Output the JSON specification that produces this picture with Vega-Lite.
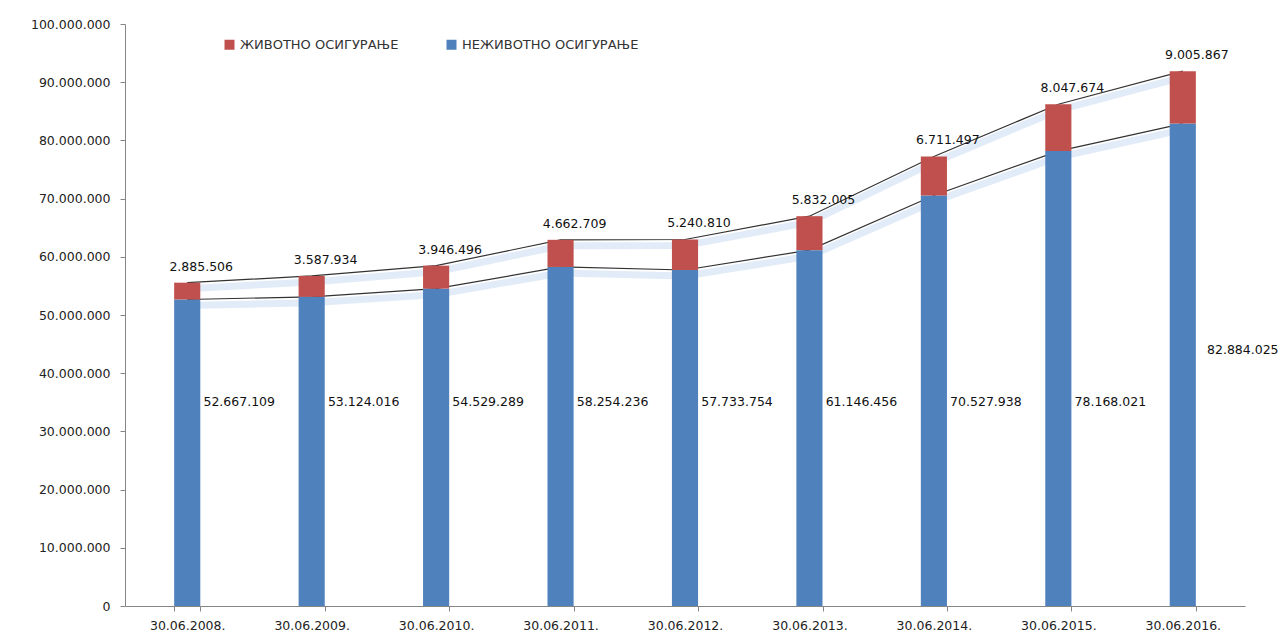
{
  "$schema": "https://vega.github.io/schema/vega-lite/v6.json",
  "width": 1120,
  "height": 582,
  "autosize": {"type": "none"},
  "padding": {"left": 125, "top": 24, "right": 34, "bottom": 34},
  "background": "white",
  "config": {
    "locale": {"number": {"decimal": ",", "thousands": ".", "grouping": [3], "currency": ["", ""]}},
    "view": {"stroke": null},
    "font": "DejaVu Sans"
  },
  "data": {
    "values": [
      {"date": "30.06.2008.", "type": "НЕЖИВОТНО ОСИГУРАЊЕ", "value": 52667109},
      {"date": "30.06.2008.", "type": "ЖИВОТНО ОСИГУРАЊЕ", "value": 2885506},
      {"date": "30.06.2009.", "type": "НЕЖИВОТНО ОСИГУРАЊЕ", "value": 53124016},
      {"date": "30.06.2009.", "type": "ЖИВОТНО ОСИГУРАЊЕ", "value": 3587934},
      {"date": "30.06.2010.", "type": "НЕЖИВОТНО ОСИГУРАЊЕ", "value": 54529289},
      {"date": "30.06.2010.", "type": "ЖИВОТНО ОСИГУРАЊЕ", "value": 3946496},
      {"date": "30.06.2011.", "type": "НЕЖИВОТНО ОСИГУРАЊЕ", "value": 58254236},
      {"date": "30.06.2011.", "type": "ЖИВОТНО ОСИГУРАЊЕ", "value": 4662709},
      {"date": "30.06.2012.", "type": "НЕЖИВОТНО ОСИГУРАЊЕ", "value": 57733754},
      {"date": "30.06.2012.", "type": "ЖИВОТНО ОСИГУРАЊЕ", "value": 5240810},
      {"date": "30.06.2013.", "type": "НЕЖИВОТНО ОСИГУРАЊЕ", "value": 61146456},
      {"date": "30.06.2013.", "type": "ЖИВОТНО ОСИГУРАЊЕ", "value": 5832005},
      {"date": "30.06.2014.", "type": "НЕЖИВОТНО ОСИГУРАЊЕ", "value": 70527938},
      {"date": "30.06.2014.", "type": "ЖИВОТНО ОСИГУРАЊЕ", "value": 6711497},
      {"date": "30.06.2015.", "type": "НЕЖИВОТНО ОСИГУРАЊЕ", "value": 78168021},
      {"date": "30.06.2015.", "type": "ЖИВОТНО ОСИГУРАЊЕ", "value": 8047674},
      {"date": "30.06.2016.", "type": "НЕЖИВОТНО ОСИГУРАЊЕ", "value": 82884025},
      {"date": "30.06.2016.", "type": "ЖИВОТНО ОСИГУРАЊЕ", "value": 9005867}
    ]
  },
  "encoding": {
    "x": {
      "field": "date",
      "type": "ordinal",
      "scale": {"paddingInner": 0.79, "paddingOuter": 0.395},
      "axis": {
        "title": null,
        "labelAngle": 0,
        "labelFontSize": 12.5,
        "labelColor": "#222222",
        "labelPadding": 8,
        "tickBand": "extent",
        "domainColor": "#868686",
        "tickColor": "#868686",
        "tickSize": 5
      }
    }
  },
  "layer": [
    {
      "mark": {"type": "line", "stroke": "#c6d9f1", "strokeWidth": 7, "opacity": 0.5, "yOffset": 6},
      "encoding": {
        "y": {"field": "value", "type": "quantitative", "stack": "zero"},
        "detail": {"field": "type"},
        "order": {"field": "type", "sort": "descending"}
      }
    },
    {
      "mark": {"type": "line", "stroke": "#333333", "strokeWidth": 1.2},
      "encoding": {
        "y": {"field": "value", "type": "quantitative", "stack": "zero"},
        "detail": {"field": "type"},
        "order": {"field": "type", "sort": "descending"}
      }
    },
    {
      "mark": {"type": "bar"},
      "encoding": {
        "y": {
          "field": "value",
          "type": "quantitative",
          "stack": "zero",
          "scale": {"domain": [0, 100000000]},
          "axis": {
            "title": null,
            "values": [0, 10000000, 20000000, 30000000, 40000000, 50000000, 60000000, 70000000, 80000000, 90000000, 100000000],
            "format": ",d",
            "grid": false,
            "labelFontSize": 12.5,
            "labelColor": "#222222",
            "labelPadding": 10,
            "domainColor": "#868686",
            "tickColor": "#868686",
            "tickSize": 5
          }
        },
        "color": {
          "field": "type",
          "type": "nominal",
          "scale": {"domain": ["ЖИВОТНО ОСИГУРАЊЕ", "НЕЖИВОТНО ОСИГУРАЊЕ"], "range": ["#C0504D", "#4F81BD"]},
          "legend": {
            "title": null,
            "orient": "none",
            "direction": "horizontal",
            "legendX": 98,
            "legendY": 14,
            "symbolType": "square",
            "symbolSize": 100,
            "symbolStrokeWidth": 0,
            "labelFontSize": 13,
            "labelColor": "#333333",
            "columnPadding": 46,
            "labelLimit": 300
          }
        },
        "order": {"field": "type", "sort": "descending"}
      }
    },
    {
      "transform": [
        {"stack": "value", "groupby": ["date"], "sort": [{"field": "type", "order": "descending"}], "as": ["v0", "v1"]},
        {"filter": "datum.type === 'ЖИВОТНО ОСИГУРАЊЕ'"}
      ],
      "mark": {"type": "text", "fontSize": 12.5, "color": "#111111", "dx": 14, "dy": -16},
      "encoding": {
        "y": {"field": "v1", "type": "quantitative"},
        "text": {"field": "value", "type": "quantitative", "format": ",d"}
      }
    },
    {
      "transform": [{"filter": "datum.type === 'НЕЖИВОТНО ОСИГУРАЊЕ' && datum.date !== '30.06.2016.'"}],
      "mark": {"type": "text", "fontSize": 12.5, "color": "#111111", "dx": 52},
      "encoding": {
        "y": {"datum": 35000000},
        "text": {"field": "value", "type": "quantitative", "format": ",d"}
      }
    },
    {
      "transform": [{"filter": "datum.type === 'НЕЖИВОТНО ОСИГУРАЊЕ' && datum.date === '30.06.2016.'"}],
      "mark": {"type": "text", "fontSize": 12.5, "color": "#111111", "dx": 60},
      "encoding": {
        "y": {"datum": 44000000},
        "text": {"field": "value", "type": "quantitative", "format": ",d"}
      }
    }
  ]
}
